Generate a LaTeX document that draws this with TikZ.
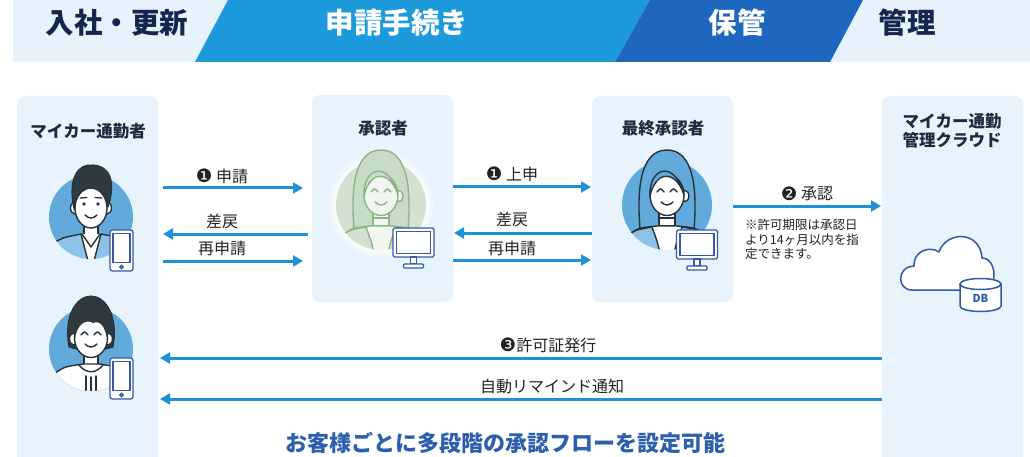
\documentclass[tikz,border=0pt]{standalone}
\usepackage{fontspec}
\setmainfont{Noto Sans CJK JP}
\newfontfamily\dvsans{DejaVu Sans}
\usetikzlibrary{arrows.meta}

\definecolor{hdrbg}{HTML}{E6F2FC}
\definecolor{segA}{HTML}{1D9ADB}
\definecolor{segB}{HTML}{1E66BE}
\definecolor{navy}{HTML}{14264D}
\definecolor{panelbg}{HTML}{E7F3FD}
\definecolor{titlecol}{HTML}{1F2B3C}
\definecolor{flowcol}{HTML}{1E92D8}
\definecolor{labelcol}{HTML}{222222}
\definecolor{bottomcol}{HTML}{2C5FAE}
\definecolor{devcol}{HTML}{3A58A6}
\definecolor{pblue}{HTML}{62A9DC}
\definecolor{jacketblue}{HTML}{8CC2E8}
\definecolor{inkcol}{HTML}{263238}
\definecolor{hairdark}{HTML}{2E3A40}
\definecolor{gstroke}{HTML}{8CB489}
\definecolor{gfill}{HTML}{D2E2CF}
\definecolor{ghair}{HTML}{C8DCC5}
\definecolor{gface}{HTML}{F2F6F1}
\definecolor{cloudcol}{HTML}{2F5AA6}

% step number in a black disc
\newcommand\circnum[1]{{\dvsans\fontsize{18.5}{19}\selectfont\raisebox{-0.5pt}{#1}}}

% man with short hair, origin = centre of the backdrop circle
\newcommand\manfigure{%
  \fill[pblue] (0,0) circle (42);
  \begin{scope}
    \clip (0,0) circle (42);
    \path[ink, fill=white] (-7,0) rectangle (7,18);
    \fill[white] (-44,50) -- (-38,28) .. controls (-28,20) .. (-8,17) -- (8,17) .. controls (28,20) .. (38,28) -- (44,50) -- cycle;
    \path[ink, fill=jacketblue] (-46,50) -- (-40,28) .. controls (-30,21) .. (-10,17) -- (-3,44) -- (-3,50);
    \path[ink, fill=jacketblue] (46,50) -- (40,28) .. controls (30,21) .. (10,17) -- (3,44) -- (3,50);
    \draw[ink] (-9,17) -- (0,30) -- (9,17);
  \end{scope}
  \path[ink, fill=white] (-16,-9) ellipse (4.5 and 6);
  \path[ink, fill=white] (16,-9) ellipse (4.5 and 6);
  \path[ink, fill=white] (0,-9) ellipse (16 and 20);
  \path[fill=hairdark, draw=inkcol, line width=1pt] (-17,-8) .. controls (-24,-40) and (-12,-54) .. (2,-52) .. controls (20,-51) and (25,-34) .. (17,-10) .. controls (15,-22) and (10,-29) .. (0,-29) .. controls (-8,-29) and (-16,-22) .. cycle;
  \fill[inkcol] (-7,-13) circle (1.9) (7,-13) circle (1.9);
  \draw[ink, line width=1.3pt] (-11,-19) -- (-4,-19.5) (4,-19.5) -- (11,-19);
  \draw[ink] (-6,-2) .. controls (-2,2) and (2,2) .. (6,-2);
}

% woman with a bob cut
\newcommand\bobfigure{%
  \fill[pblue] (0,0) circle (42);
  \path[fill=hairdark, draw=inkcol, line width=1pt] (-22,-2) .. controls (-28,-34) and (-14,-53) .. (0,-53) .. controls (14,-53) and (28,-34) .. (22,-2) .. controls (12,2) and (-12,2) .. cycle;
  \begin{scope}
    \clip (0,0) circle (42);
    \path[ink, fill=white] (-7,0) rectangle (7,18);
    \path[ink, fill=white] (-46,50) -- (-38,26) .. controls (-28,18) .. (-8,15) -- (8,15) .. controls (28,18) .. (38,26) -- (46,50) -- cycle;
    \draw[ink] (-12,16) .. controls (-5,25) and (5,25) .. (12,16);
    \draw[ink] (-5,27) -- (-5,44) (0,28) -- (0,44) (5,27) -- (5,44);
  \end{scope}
  \path[ink, fill=white] (-17,-10) ellipse (4.5 and 6);
  \path[ink, fill=white] (17,-10) ellipse (4.5 and 6);
  \path[ink, fill=white] (0,-11) ellipse (16.5 and 19.5);
  \path[fill=hairdark] (-16,-10) .. controls (-18,-36) and (-4,-40) .. (2,-34) .. controls (10,-38) and (18,-32) .. (16,-10) .. controls (14,-24) and (8,-29) .. (2,-26) .. controls (-4,-30) and (-14,-26) .. cycle;
  \draw[ink] (-10,-14) .. controls (-6.5,-18) .. (-3,-14);
  \draw[ink] (3,-14) .. controls (6.5,-18) .. (10,-14);
  \draw[ink] (-6,-5) .. controls (-2,-1) and (2,-1) .. (6,-5);
}

% woman with long hair: #1 stroke, #2 hair, #3 face/shirt, #4 circle, #5 jacket
\newcommand\longhairfigure[5]{%
  \fill[#4] (0,0) circle (45);
  \path[draw=#1, fill=#2, line width=1.4pt] (-27,24) .. controls (-30,-12) and (-28,-55) .. (0,-55) .. controls (28,-55) and (30,-12) .. (27,24) -- cycle;
  \begin{scope}
    \clip (0,0) circle (45);
    \path[draw=#1, line width=1.4pt, fill=#3] (-8,2) rectangle (8,21);
    \draw[#1, line width=1.4pt] (-8,13) -- (8,13);
    \path[draw=#1, line width=1.4pt, line join=round, fill=#3] (-48,52) -- (-40,32) .. controls (-30,23) .. (-10,21) -- (10,21) .. controls (30,23) .. (40,32) -- (48,52) -- cycle;
    \path[draw=#1, line width=1.4pt, line join=round, fill=#5] (-50,52) -- (-41,32) .. controls (-32,25) .. (-15,22) -- (-10,36) -- (-6,52);
    \path[draw=#1, line width=1.4pt, line join=round, fill=#5] (50,52) -- (41,32) .. controls (32,25) .. (15,22) -- (10,36) -- (6,52);
  \end{scope}
  \path[draw=#1, line width=1.4pt, fill=#3] (18,-9) ellipse (4 and 5.5);
  \path[draw=#1, line width=1.4pt, fill=#3] (0,-10) ellipse (17 and 20.5);
  \path[draw=#1, line width=1.4pt, line join=round, fill=#2] (-17,-8) .. controls (-19,-38) and (8,-46) .. (17,-10) .. controls (12,-26) and (2,-32) .. (-7,-27) .. controls (-12,-23) and (-16,-16) .. cycle;
  \draw[#1, line width=1.4pt, line cap=round] (-10,-13) .. controls (-6.5,-17) .. (-3,-13);
  \draw[#1, line width=1.4pt, line cap=round] (3,-13) .. controls (6.5,-17) .. (10,-13);
  \draw[#1, line width=1.4pt, line cap=round] (-6,-3) .. controls (-2,1) and (2,1) .. (6,-3);
}

\tikzset{
  phone/.pic={
    \path[dev, fill=white, rounded corners=2.5pt] (-11.5,-20.5) rectangle (11.5,20.5);
    \path[dev] (-8.5,-17) rectangle (8.5,12);
    \path[dev] (0,16.5) circle (1.6);
  },
  monitor/.pic={
    \path[dev, fill=white, rounded corners=1.5pt] (-20.5,-15) rectangle (20.5,14);
    \path[dev] (-17,-11.5) rectangle (17,10.5);
    \path[dev, fill=white] (-3,14) rectangle (3,21);
    \path[dev, fill=white, rounded corners=1pt] (-10,21) rectangle (10,25);
  },
}

\begin{document}
\begin{tikzpicture}[x=1pt, y=-1pt,
  panel/.style={fill=panelbg, rounded corners=8pt, draw=none, inner sep=0pt, outer sep=0pt},
  flow/.style={draw=flowcol, line width=3pt, -{Triangle[length=10pt,width=11pt]}},
  ttl/.style={text=titlecol, font=\fontsize{16.5}{19}\selectfont\bfseries, align=center, inner sep=0pt},
  lbl/.style={text=labelcol, font=\fontsize{16}{18}\selectfont, inner sep=0pt},
  hdr/.style={font=\fontsize{28.5}{31}\selectfont\bfseries, inner sep=0pt},
  dev/.style={draw=devcol, line width=1.3pt},
  ink/.style={draw=inkcol, line width=1.4pt, line join=round, line cap=round},
]
\useasboundingbox (0,0) rectangle (1030,457);
\fill[white] (0,0) rectangle (1030,457);

% phase header
\fill[hdrbg] (13,0) rectangle (1030,62);
\fill[segA] (228,0) -- (650,0) -- (615,62) -- (195,62) -- cycle;
\fill[segB] (650,0) -- (863,0) -- (830,62) -- (615,62) -- cycle;
\node[hdr, text=navy]  (h1) at (117,23) {入社・更新};
\node[hdr, text=white] (h2) at (397,23) {申請手続き};
\node[hdr, text=white] (h3) at (737,23) {保管};
\node[hdr, text=navy]  (h4) at (907,23) {管理};

% lanes
\node[panel, minimum width=141pt, minimum height=372pt, anchor=north west] (p1) at (17,96) {};
\node[panel, minimum width=141pt, minimum height=207pt, anchor=north west] (p2) at (312,95) {};
\node[panel, minimum width=141pt, minimum height=206pt, anchor=north west] (p3) at (592,96) {};
\node[panel, minimum width=141pt, minimum height=372pt, anchor=north west] (p4) at (882,96) {};

\node[ttl] (t1) at (88,131) {マイカー通勤者};
\node[ttl] (t2) at (383,128) {承認者};
\node[ttl] (t3) at (663,128) {最終承認者};
\node[ttl] (t4) at (952,131) {マイカー通勤\\管理クラウド};

% commuters
\begin{scope}[shift={(91,217)}] \manfigure \end{scope}
\pic at (121.5,250.5) {phone};
\begin{scope}[shift={(91,349)}] \bobfigure \end{scope}
\pic at (121.5,378.5) {phone};

% approver
\begin{scope}[shift={(381,205)}]
  \fill[white, opacity=0.45] (0,0) circle (52);
  \fill[white, opacity=0.6] (0,0) circle (48.5);
  \longhairfigure{gstroke}{ghair}{gface}{gfill}{gfill}
\end{scope}
\pic at (413.5,243) {monitor};

% final approver
\begin{scope}[shift={(667,205)}]
  \longhairfigure{inkcol}{pblue}{white}{pblue}{jacketblue}
\end{scope}
\pic at (697,245) {monitor};

% cloud service with database
\path[draw=cloudcol, line width=1.5pt, fill=white, line join=round]
  (912,290) .. controls (897,290) and (896,267) .. (914,266)
  .. controls (913,252) and (929,245) .. (939,252)
  .. controls (946,231) and (980,230) .. (982,258)
  .. controls (997,258) and (999,290) .. (982,290) -- cycle;
\path[draw=cloudcol, line width=1.5pt, fill=white] (960,284) -- (960,306) arc (180:0:20.5 and 5.5) -- (1001,284);
\path[draw=cloudcol, line width=1.5pt, fill=white] (980.5,284) ellipse (20.5 and 5.5);
\node[text=cloudcol, font=\fontsize{11}{13}\selectfont\bfseries, inner sep=0pt] (db) at (980.5,298) {DB};

% request flow
\draw[flow, shorten <=5pt, shorten >=9pt] (p1.east |- 0,188) -- (p2.west |- 0,188);
\draw[flow, shorten <=4pt, shorten >=5pt] (p2.west |- 0,234) -- (p1.east |- 0,234);
\draw[flow, shorten <=5pt, shorten >=9pt] (p1.east |- 0,261) -- (p2.west |- 0,261);
\node[lbl] (l1) at (222,176) {\circnum{❶}\ 申請};
\node[lbl] (l2) at (222,221) {差戻};
\node[lbl] (l3) at (222,248) {再申請};

\draw[flow, shorten >=1pt] (p2.east |- 0,187) -- (p3.west |- 0,187);
\draw[flow, shorten >=1pt] (p3.west |- 0,233) -- (p2.east |- 0,233);
\draw[flow, shorten >=1pt] (p2.east |- 0,260) -- (p3.west |- 0,260);
\node[lbl] (l4) at (512,174) {\circnum{❶}\ 上申};
\node[lbl] (l5) at (512,219) {差戻};
\node[lbl] (l6) at (512,248) {再申請};

\draw[flow, shorten >=1pt] (p3.east |- 0,206) -- (p4.west |- 0,206);
\node[lbl] (l7) at (807,194) {\circnum{❷}\ 承認};
\node[text=labelcol, font=\fontsize{12.5}{14.5}\selectfont, align=left, anchor=north west, inner sep=0pt] (note) at (745,219) {※許可期限は承認日\\より14ヶ月以内を指\\定できます。};

\draw[flow, shorten >=2pt] (p4.west |- 0,358) -- (p1.east |- 0,358);
\draw[flow, shorten >=2pt] (p4.west |- 0,399) -- (p1.east |- 0,399);
\node[lbl] (l8) at (548,345) {\circnum{❸}許可証発行};
\node[lbl] (l9) at (552,386) {自動リマインド通知};

\node[text=bottomcol, font=\fontsize{22}{25}\selectfont\bfseries, inner sep=0pt] (foot) at (505,443) {お客様ごとに多段階の承認フローを設定可能};
\end{tikzpicture}
\end{document}
